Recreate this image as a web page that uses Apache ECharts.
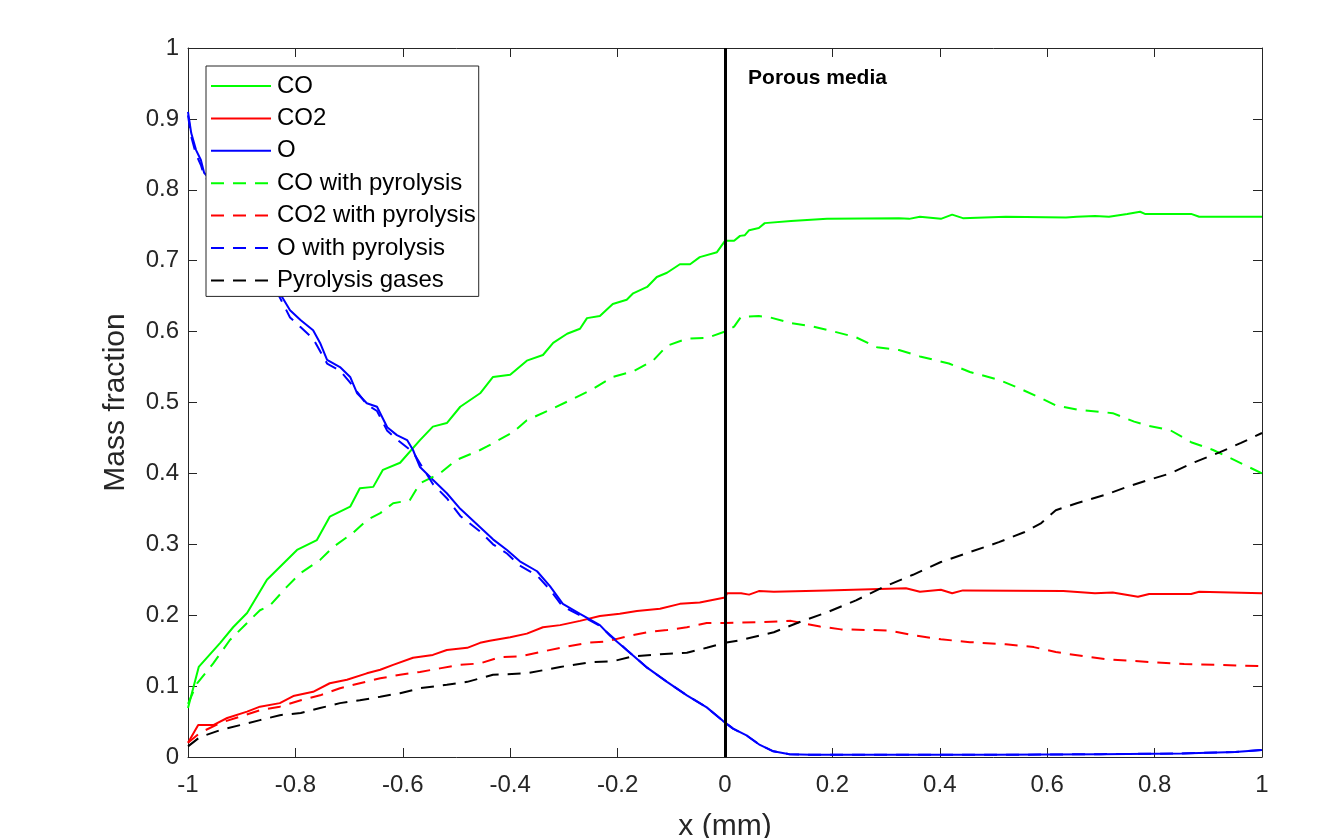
<!DOCTYPE html>
<html>
<head>
<meta charset="utf-8">
<script src="https://cdn.jsdelivr.net/npm/echarts@6/dist/echarts.min.js"></script>
<style>
html,body{margin:0;padding:0;background:#fff;}
#chart{width:1322px;height:838px;}
</style>
</head>
<body>
<div id="chart"></div>
<script>
// ---- Data ----
const xTicks = [-1, -0.8, -0.6, -0.4, -0.2, 0, 0.2, 0.4, 0.6, 0.8, 1];
const yTicks = [0, 0.1, 0.2, 0.3, 0.4, 0.5, 0.6, 0.7, 0.8, 0.9, 1];
const seriesNames = ['CO', 'CO2', 'O', 'CO with pyrolysis', 'CO2 with pyrolysis', 'O with pyrolysis', 'Pyrolysis gases'];

const coX = [-1, -0.98, -0.94, -0.916, -0.89, -0.853, -0.797, -0.76, -0.736, -0.698, -0.68, -0.655, -0.637, -0.605, -0.568, -0.544, -0.518, -0.493, -0.456, -0.432, -0.4, -0.369, -0.339, -0.32, -0.294, -0.27, -0.257, -0.233, -0.209, -0.183, -0.171, -0.145, -0.127, -0.108, -0.084, -0.065, -0.047, -0.015, 0, 0.017, 0.028, 0.037, 0.045, 0.063, 0.074, 0.123, 0.19, 0.324, 0.343, 0.363, 0.402, 0.423, 0.443, 0.523, 0.635, 0.655, 0.689, 0.715, 0.749, 0.773, 0.782, 0.868, 0.883, 1.0];
const coY = [0.069, 0.127, 0.161, 0.183, 0.203, 0.25, 0.292, 0.306, 0.339, 0.353, 0.379, 0.381, 0.405, 0.415, 0.447, 0.466, 0.471, 0.494, 0.513, 0.536, 0.539, 0.559, 0.567, 0.584, 0.597, 0.604, 0.619, 0.622, 0.639, 0.645, 0.654, 0.663, 0.677, 0.683, 0.695, 0.695, 0.705, 0.712, 0.728, 0.728, 0.735, 0.736, 0.743, 0.746, 0.753, 0.756, 0.759, 0.76, 0.759, 0.762, 0.759, 0.765, 0.76, 0.762, 0.761, 0.762, 0.763, 0.762, 0.766, 0.769, 0.766, 0.766, 0.762, 0.762];

const co2X = [-1, -0.981, -0.953, -0.927, -0.89, -0.866, -0.829, -0.804, -0.767, -0.736, -0.704, -0.667, -0.642, -0.618, -0.581, -0.544, -0.518, -0.48, -0.456, -0.438, -0.4, -0.369, -0.339, -0.307, -0.27, -0.233, -0.196, -0.164, -0.121, -0.084, -0.047, 0, 0.004, 0.03, 0.045, 0.063, 0.091, 0.19, 0.337, 0.363, 0.402, 0.423, 0.443, 0.63, 0.689, 0.722, 0.769, 0.79, 0.868, 0.883, 1.0];
const co2Y = [0.02, 0.045, 0.045, 0.055, 0.064, 0.071, 0.076, 0.086, 0.092, 0.104, 0.109, 0.118, 0.123, 0.13, 0.14, 0.144, 0.151, 0.154, 0.161, 0.164, 0.169, 0.174, 0.183, 0.186, 0.192, 0.199, 0.202, 0.206, 0.209, 0.216, 0.218, 0.225, 0.231, 0.231, 0.229, 0.234, 0.233, 0.235, 0.238, 0.233, 0.236, 0.231, 0.235, 0.234, 0.231, 0.232, 0.226, 0.23, 0.23, 0.233, 0.231];

const oX = [-1, -0.994, -0.985, -0.976, -0.97, -0.93, -0.88, -0.829, -0.81, -0.79, -0.767, -0.754, -0.741, -0.717, -0.698, -0.685, -0.667, -0.648, -0.629, -0.611, -0.592, -0.581, -0.568, -0.544, -0.518, -0.493, -0.456, -0.432, -0.406, -0.382, -0.35, -0.326, -0.302, -0.27, -0.233, -0.214, -0.183, -0.145, -0.108, -0.071, -0.034, -0.004, 0.015, 0.041, 0.065, 0.09, 0.12, 0.16, 0.3, 0.5, 0.7, 0.85, 0.95, 1.0];
const oY = [0.91, 0.88, 0.856, 0.842, 0.824, 0.79, 0.72, 0.654, 0.63, 0.616, 0.602, 0.584, 0.56, 0.55, 0.536, 0.513, 0.499, 0.494, 0.465, 0.454, 0.447, 0.433, 0.409, 0.391, 0.372, 0.35, 0.324, 0.307, 0.292, 0.276, 0.262, 0.241, 0.216, 0.202, 0.186, 0.171, 0.151, 0.126, 0.106, 0.087, 0.07, 0.051, 0.04, 0.03, 0.017, 0.008, 0.004, 0.003, 0.003, 0.003, 0.004, 0.005, 0.007, 0.01];

const coPX = [-1, -0.983, -0.953, -0.922, -0.89, -0.866, -0.847, -0.816, -0.791, -0.754, -0.73, -0.693, -0.667, -0.642, -0.618, -0.587, -0.568, -0.531, -0.5, -0.456, -0.443, -0.395, -0.369, -0.331, -0.289, -0.246, -0.209, -0.171, -0.134, -0.108, -0.071, -0.034, 0, 0.017, 0.03, 0.063, 0.084, 0.123, 0.164, 0.203, 0.244, 0.283, 0.324, 0.363, 0.417, 0.456, 0.51, 0.542, 0.589, 0.616, 0.655, 0.722, 0.762, 0.79, 0.829, 0.868, 0.909, 0.948, 1.0];
const coPY = [0.075, 0.104, 0.132, 0.165, 0.189, 0.207, 0.214, 0.24, 0.259, 0.278, 0.296, 0.316, 0.334, 0.344, 0.358, 0.362, 0.386, 0.4, 0.419, 0.433, 0.438, 0.458, 0.475, 0.488, 0.503, 0.519, 0.536, 0.544, 0.559, 0.58, 0.59, 0.591, 0.6, 0.607, 0.621, 0.622, 0.62, 0.612, 0.607, 0.6, 0.592, 0.578, 0.574, 0.565, 0.555, 0.543, 0.532, 0.522, 0.506, 0.496, 0.49, 0.485, 0.473, 0.467, 0.461, 0.444, 0.433, 0.419, 0.4];

const co2PX = [-1, -0.978, -0.94, -0.903, -0.866, -0.829, -0.79, -0.754, -0.717, -0.68, -0.642, -0.605, -0.568, -0.531, -0.493, -0.456, -0.419, -0.382, -0.344, -0.307, -0.257, -0.22, -0.183, -0.145, -0.108, -0.071, -0.034, 0, 0.058, 0.123, 0.177, 0.216, 0.277, 0.309, 0.35, 0.402, 0.456, 0.523, 0.575, 0.616, 0.669, 0.709, 0.79, 0.855, 0.922, 1.0];
const co2PY = [0.02, 0.034, 0.048, 0.057, 0.066, 0.071, 0.08, 0.087, 0.097, 0.104, 0.111, 0.116, 0.12, 0.125, 0.13, 0.132, 0.141, 0.142, 0.148, 0.154, 0.161, 0.163, 0.17, 0.176, 0.179, 0.183, 0.189, 0.189, 0.19, 0.192, 0.184, 0.18, 0.179, 0.178, 0.172, 0.166, 0.162, 0.159, 0.155, 0.148, 0.142, 0.138, 0.134, 0.131, 0.13, 0.128];

const oPX = [-1, -0.994, -0.985, -0.976, -0.97, -0.93, -0.88, -0.829, -0.81, -0.79, -0.767, -0.741, -0.717, -0.698, -0.667, -0.648, -0.629, -0.611, -0.581, -0.544, -0.518, -0.493, -0.456, -0.432, -0.406, -0.382, -0.35, -0.326, -0.302, -0.27, -0.233, -0.183, -0.145, -0.108, -0.071, -0.034, -0.004, 0.015, 0.041, 0.065, 0.09, 0.12, 0.16, 0.3, 0.5, 0.7, 0.85, 0.95, 1.0];
const oPY = [0.905, 0.875, 0.85, 0.835, 0.82, 0.78, 0.715, 0.648, 0.62, 0.606, 0.59, 0.555, 0.545, 0.528, 0.497, 0.488, 0.46, 0.448, 0.43, 0.385, 0.365, 0.34, 0.318, 0.3, 0.287, 0.27, 0.256, 0.236, 0.212, 0.2, 0.185, 0.151, 0.126, 0.106, 0.087, 0.07, 0.051, 0.04, 0.03, 0.017, 0.008, 0.004, 0.003, 0.003, 0.003, 0.004, 0.005, 0.007, 0.01];

const pyX = [-1, -0.978, -0.94, -0.903, -0.866, -0.829, -0.79, -0.754, -0.717, -0.68, -0.642, -0.605, -0.568, -0.518, -0.48, -0.432, -0.369, -0.307, -0.246, -0.209, -0.171, -0.121, -0.071, -0.034, 0, 0.03, 0.091, 0.138, 0.19, 0.244, 0.296, 0.35, 0.402, 0.456, 0.51, 0.557, 0.589, 0.616, 0.655, 0.709, 0.749, 0.79, 0.829, 0.875, 0.922, 0.961, 1.0];
const pyY = [0.015, 0.028, 0.038, 0.045, 0.052, 0.059, 0.062, 0.069, 0.076, 0.08, 0.085, 0.09, 0.097, 0.102, 0.106, 0.116, 0.118, 0.127, 0.134, 0.135, 0.142, 0.145, 0.147, 0.154, 0.161, 0.165, 0.176, 0.19, 0.204, 0.221, 0.24, 0.257, 0.275, 0.289, 0.303, 0.317, 0.33, 0.348, 0.358, 0.37, 0.381, 0.391, 0.4, 0.416, 0.43, 0.443, 0.457];

const interfaceX = 0;
const annotationText = 'Porous media';
const annotationPos = [0.043, 0.958];

// ---- Build chart ----
const zip = (xs, ys) => xs.map((x, i) => [x, ys[i]]);
const DASH = [13, 9];
const FONT = 'Liberation Sans, Arial, sans-serif';
const AXC = '#262626';

function lineSeries(name, xs, ys, color, dashed) {
  return {
    name: name,
    type: 'line',
    data: zip(xs, ys),
    showSymbol: false,
    symbol: 'none',
    smooth: false,
    z: 3,
    lineStyle: { color: color, width: 2, type: dashed ? DASH : 'solid' },
    itemStyle: { color: color },
    emphasis: { disabled: true }
  };
}

const series = [
  lineSeries('CO', coX, coY, '#00ff00', false),
  lineSeries('CO2', co2X, co2Y, '#ff0000', false),
  lineSeries('O', oX, oY, '#0000ff', false),
  lineSeries('CO with pyrolysis', coPX, coPY, '#00ff00', true),
  lineSeries('CO2 with pyrolysis', co2PX, co2PY, '#ff0000', true),
  lineSeries('O with pyrolysis', oPX, oPY, '#0000ff', true),
  lineSeries('Pyrolysis gases', pyX, pyY, '#000000', true),
  {
    name: 'interface',
    type: 'line',
    data: [],
    z: 4,
    markLine: {
      silent: true,
      symbol: 'none',
      label: { show: false },
      lineStyle: { color: '#000', width: 3, type: 'solid' },
      data: [{ xAxis: interfaceX }]
    },
    markPoint: {
      silent: true,
      symbol: 'rect',
      symbolSize: 0,
      label: {
        show: true,
        position: 'right',
        distance: 0,
        formatter: annotationText,
        fontFamily: FONT,
        fontWeight: 'bold',
        fontSize: 21,
        color: '#000'
      },
      data: [{ coord: annotationPos }]
    }
  }
];

const chart = echarts.init(document.getElementById('chart'), null, { renderer: 'canvas' });
chart.setOption({
  animation: false,
  backgroundColor: '#ffffff',
  textStyle: { fontFamily: FONT },
  grid: { left: 188, top: 48, width: 1074, height: 709, show: false, containLabel: false, outerBoundsMode: 'none' },
  legend: {
    data: seriesNames,
    orient: 'vertical',
    left: 206,
    top: 66,
    itemWidth: 60,
    itemHeight: 14,
    itemGap: 8.4,
    padding: [8, 3, 4, 4],
    backgroundColor: '#ffffff',
    borderColor: '#262626',
    borderWidth: 1,
    borderRadius: 0,
    selectedMode: false,
    itemStyle: { opacity: 0, borderWidth: 0 },
    textStyle: { fontFamily: FONT, fontSize: 24, lineHeight: 24, color: '#000', padding: [0, 0, 0, 1] }
  },
  xAxis: [
    {
      type: 'value', min: -1, max: 1, interval: 0.2,
      position: 'bottom',
      name: 'x (mm)', nameLocation: 'middle', nameGap: 55,
      nameTextStyle: { fontFamily: FONT, fontSize: 30, color: AXC },
      axisLine: { show: true, onZero: false, lineStyle: { color: AXC, width: 1 } },
      axisTick: { show: true, inside: true, length: 9, lineStyle: { color: AXC } },
      axisLabel: { fontFamily: FONT, fontSize: 24, color: AXC, margin: 16,
        formatter: v => String(Math.round(v * 10) / 10) },
      splitLine: { show: false }
    },
    {
      type: 'value', min: -1, max: 1, interval: 0.2,
      position: 'top',
      axisLine: { show: true, onZero: false, lineStyle: { color: AXC, width: 1 } },
      axisTick: { show: true, inside: true, length: 9, lineStyle: { color: AXC } },
      axisLabel: { show: false },
      splitLine: { show: false }
    }
  ],
  yAxis: [
    {
      type: 'value', min: 0, max: 1, interval: 0.1,
      position: 'left',
      name: 'Mass fraction', nameLocation: 'middle', nameGap: 57,
      nameTextStyle: { fontFamily: FONT, fontSize: 30, color: AXC },
      axisLine: { show: true, onZero: false, lineStyle: { color: AXC, width: 1 } },
      axisTick: { show: true, inside: true, length: 9, lineStyle: { color: AXC } },
      axisLabel: { fontFamily: FONT, fontSize: 24, color: AXC, margin: 9,
        formatter: v => String(Math.round(v * 10) / 10) },
      splitLine: { show: false }
    },
    {
      type: 'value', min: 0, max: 1, interval: 0.1,
      position: 'right',
      axisLine: { show: true, onZero: false, lineStyle: { color: AXC, width: 1 } },
      axisTick: { show: true, inside: true, length: 9, lineStyle: { color: AXC } },
      axisLabel: { show: false },
      splitLine: { show: false }
    }
  ],
  series: series
});
</script>
</body>
</html>
